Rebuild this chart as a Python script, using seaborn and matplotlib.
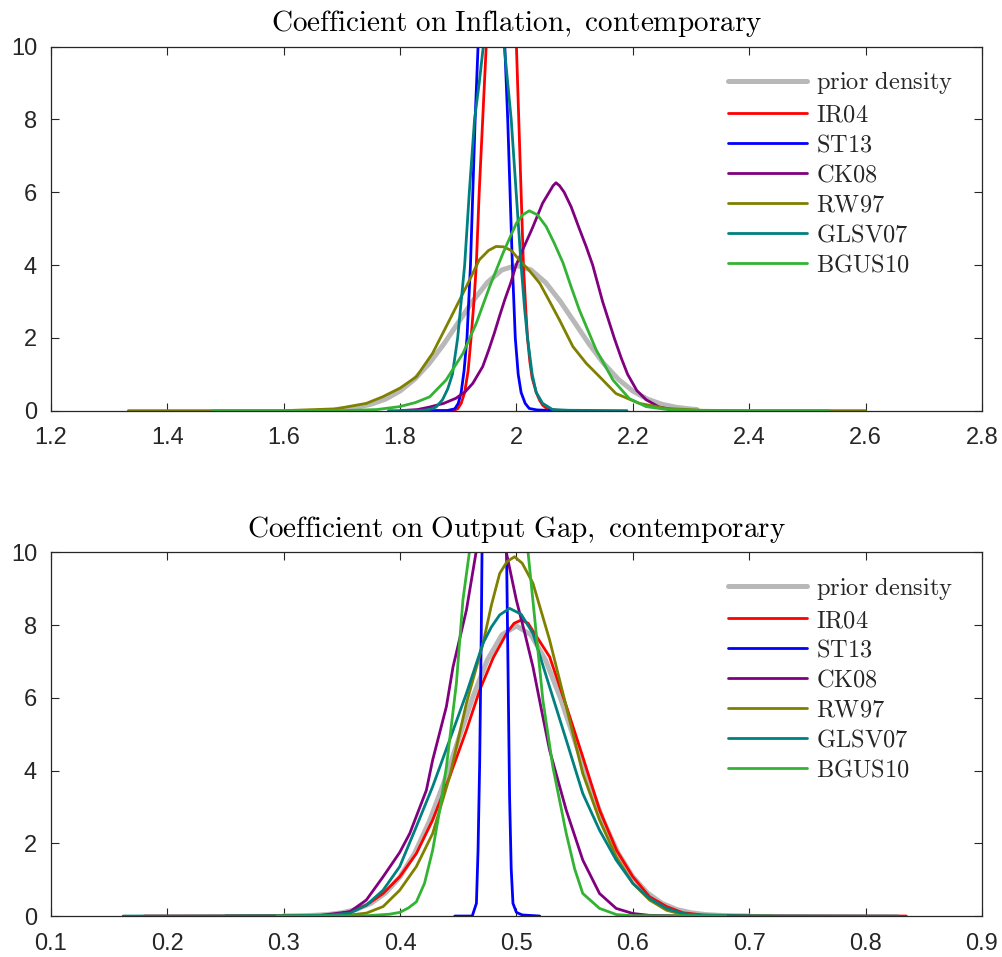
import numpy as np
import pandas as pd
import matplotlib
matplotlib.use("Agg")
import matplotlib.pyplot as plt
import seaborn as sns

# ---------------- data ----------------
series_names = ["prior density", "IR04", "ST13", "CK08", "RW97", "GLSV07", "BGUS10"]

# Panel 1: Coefficient on Inflation
infl_prior_x = [1.69, 1.70, 1.725, 1.75, 1.775, 1.80, 1.825, 1.85, 1.875, 1.90, 1.925, 1.95, 1.975, 2.00,
                2.025, 2.05, 2.075, 2.10, 2.125, 2.15, 2.175, 2.20, 2.225, 2.25, 2.275, 2.30, 2.31]
infl_prior_y = [0.033, 0.044, 0.091, 0.175, 0.317, 0.540, 0.863, 1.295, 1.826, 2.420, 3.011, 3.521, 3.866, 3.989,
                3.866, 3.521, 3.011, 2.420, 1.826, 1.295, 0.863, 0.540, 0.317, 0.175, 0.091, 0.044, 0.033]

infl_ir04_x = [1.86, 1.89, 1.899, 1.905, 1.911, 1.917, 1.922, 1.927, 1.931, 1.936, 1.942, 1.948, 1.955, 1.962,
               1.968, 1.975, 1.982, 1.99, 1.995, 2.0, 2.004, 2.008, 2.012, 2.016, 2.019, 2.023, 2.027, 2.034,
               2.040, 2.045, 2.053, 2.07, 2.10]
infl_ir04_y = [0, 0, 0.05, 0.2, 0.5, 1.1, 2, 3, 4, 6, 8, 10, 13.5, 16.5, 18.2, 18.5, 17, 14, 12, 10, 8, 6, 4,
               2.8, 2, 1.35, 0.9, 0.5, 0.28, 0.15, 0.05, 0.01, 0]

infl_st13_x = [1.85, 1.88, 1.894, 1.900, 1.905, 1.910, 1.915, 1.921, 1.925, 1.929, 1.934, 1.940, 1.945, 1.951,
               1.957, 1.963, 1.97, 1.975, 1.980, 1.985, 1.989, 1.993, 1.998, 2.003, 2.008, 2.015, 2.022,
               2.035, 2.06, 2.10]
infl_st13_y = [0, 0, 0.05, 0.2, 0.5, 1.1, 2, 4, 6, 8, 10, 13.5, 17, 20, 21, 20, 17, 13.5, 10, 8, 6, 4, 2, 1,
               0.5, 0.2, 0.06, 0.02, 0.005, 0]

infl_ck08_x = [1.80, 1.83, 1.851, 1.875, 1.896, 1.912, 1.925, 1.942, 1.952, 1.962, 1.971, 1.980, 1.990, 1.9995,
               2.013, 2.027, 2.045, 2.057, 2.063, 2.068, 2.074, 2.082, 2.094, 2.108, 2.120, 2.131, 2.148,
               2.168, 2.180, 2.191, 2.207, 2.223, 2.245, 2.27, 2.30]
infl_ck08_y = [0, 0.03, 0.1, 0.2, 0.34, 0.52, 0.75, 1.21, 1.65, 2.13, 2.6, 3.05, 3.5, 4, 4.5, 5, 5.7, 6.02,
               6.18, 6.26, 6.18, 6, 5.6, 5, 4.5, 4, 3, 2, 1.45, 1, 0.55, 0.3, 0.1, 0.02, 0]

infl_rw97_x = [1.333, 1.60, 1.69, 1.742, 1.770, 1.80, 1.828, 1.856, 1.885, 1.914, 1.936, 1.952, 1.965, 1.978,
               1.991, 2.005, 2.022, 2.040, 2.057, 2.074, 2.097, 2.120, 2.143, 2.171, 2.211, 2.257, 2.32, 2.40,
               2.60]
infl_rw97_y = [0, 0, 0.05, 0.2, 0.38, 0.62, 0.93, 1.58, 2.49, 3.41, 4.14, 4.4, 4.51, 4.5, 4.4, 4.14, 3.85,
               3.5, 3.0, 2.49, 1.76, 1.3, 0.93, 0.47, 0.2, 0.06, 0.01, 0, 0]

infl_glsv07_x = [1.78, 1.83, 1.851, 1.862, 1.873, 1.882, 1.890, 1.899, 1.905, 1.911, 1.919, 1.928, 1.936, 1.943,
                 1.950, 1.958, 1.965, 1.972, 1.979, 1.991, 1.9995, 2.008, 2.014, 2.019, 2.027, 2.034, 2.045,
                 2.062, 2.09, 2.19]
infl_glsv07_y = [0, 0, 0.03, 0.1, 0.3, 0.6, 1, 2, 3, 4, 6, 8, 9, 10, 12, 14, 14, 12, 10, 8, 6, 4, 2.8, 2, 1,
                 0.5, 0.2, 0.03, 0.01, 0]

infl_bgus10_x = [1.479, 1.70, 1.76, 1.799, 1.826, 1.851, 1.879, 1.908, 1.931, 1.954, 1.977, 1.99, 2.0, 2.011,
                 2.022, 2.036, 2.051, 2.065, 2.080, 2.094, 2.108, 2.137, 2.166, 2.194, 2.223, 2.26, 2.32, 2.40,
                 2.537]
infl_bgus10_y = [0, 0, 0.03, 0.11, 0.22, 0.38, 0.84, 1.57, 2.4, 3.41, 4.33, 4.8, 5.15, 5.38, 5.49, 5.38, 5.06,
                 4.6, 4.06, 3.4, 2.77, 1.67, 0.84, 0.33, 0.11, 0.03, 0.005, 0, 0]

# Panel 2: Coefficient on Output Gap
gap_prior_x = [0.30, 0.3125, 0.325, 0.3375, 0.35, 0.3625, 0.375, 0.3875, 0.40, 0.4125, 0.425, 0.4375, 0.45,
               0.4625, 0.475, 0.4875, 0.50, 0.5125, 0.525, 0.5375, 0.55, 0.5625, 0.575, 0.5875, 0.60,
               0.6125, 0.625, 0.6375, 0.65, 0.6625, 0.675, 0.6875, 0.70]
gap_prior_y = [0.003, 0.008, 0.018, 0.04, 0.089, 0.182, 0.350, 0.635, 1.080, 1.725, 2.590, 3.653, 4.839,
               6.022, 7.041, 7.731, 7.979, 7.731, 7.041, 6.022, 4.839, 3.653, 2.590, 1.725, 1.080,
               0.635, 0.350, 0.182, 0.089, 0.04, 0.018, 0.008, 0.003]

gap_ir04_x = [0.18, 0.30, 0.330, 0.343, 0.357, 0.371, 0.3854, 0.3997, 0.414, 0.428, 0.4426, 0.457, 0.4684,
              0.48, 0.492, 0.498, 0.5042, 0.510, 0.515, 0.5285, 0.543, 0.557, 0.5715, 0.586, 0.600, 0.6144,
              0.629, 0.643, 0.66, 0.70, 0.835]
gap_ir04_y = [0, 0.005, 0.015, 0.03, 0.12, 0.3, 0.62, 1.08, 1.72, 2.64, 3.83, 5.11, 6.21, 7.1, 7.8, 8.05,
              8.14, 8.05, 7.8, 7.13, 5.76, 4.38, 2.91, 1.81, 1.08, 0.53, 0.26, 0.09, 0.03, 0.005, 0]

gap_st13_x = [0.447, 0.462, 0.4656, 0.4670, 0.4684, 0.4698, 0.471, 0.475, 0.481, 0.487, 0.4915, 0.4927,
              0.4941, 0.4955, 0.497, 0.500, 0.505, 0.520]
gap_st13_y = [0, 0, 0.35, 1.8, 4.2, 7.9, 12, 25, 35, 25, 10, 6.95, 3.28, 1.3, 0.35, 0.1, 0.03, 0]

gap_ck08_x = [0.25, 0.33, 0.357, 0.371, 0.3854, 0.3997, 0.4083, 0.4226, 0.428, 0.4398, 0.4455, 0.457, 0.4656,
              0.472, 0.478, 0.485, 0.4913, 0.4999, 0.507, 0.5142, 0.5213, 0.5285, 0.5428, 0.557, 0.5714,
              0.5857, 0.600, 0.614, 0.64, 0.70]
gap_ck08_y = [0, 0.01, 0.12, 0.44, 1.08, 1.75, 2.27, 3.46, 4.29, 5.76, 6.85, 8.41, 10.06, 10.9, 11.2, 10.9,
              10.0, 8.69, 7.8, 6.85, 5.7, 4.56, 2.91, 1.54, 0.62, 0.21, 0.07, 0.02, 0.005, 0]

gap_rw97_x = [0.25, 0.34, 0.357, 0.371, 0.3854, 0.3997, 0.414, 0.428, 0.4426, 0.457, 0.4713, 0.4785, 0.4856,
              0.492, 0.4984, 0.505, 0.5142, 0.5285, 0.5428, 0.557, 0.5714, 0.5857, 0.600, 0.6144, 0.629,
              0.643, 0.66, 0.72]
gap_rw97_y = [0, 0.01, 0.03, 0.08, 0.26, 0.71, 1.36, 2.27, 3.83, 5.85, 7.5, 8.55, 9.42, 9.75, 9.88, 9.7, 9.15,
              7.59, 5.76, 3.92, 2.64, 1.63, 0.9, 0.44, 0.16, 0.04, 0.01, 0]

gap_glsv07_x = [0.162, 0.30, 0.34, 0.357, 0.371, 0.3854, 0.3997, 0.414, 0.428, 0.4426, 0.457, 0.4713, 0.4785,
                0.4856, 0.4941, 0.504, 0.5142, 0.5285, 0.5428, 0.557, 0.5714, 0.5857, 0.600, 0.614, 0.629,
                0.643, 0.66, 0.70, 0.828]
gap_glsv07_y = [0, 0.005, 0.03, 0.08, 0.3, 0.71, 1.36, 2.46, 3.56, 4.84, 6.12, 7.5, 7.95, 8.28, 8.46, 8.3,
                7.77, 6.3, 4.84, 3.37, 2.36, 1.54, 0.9, 0.49, 0.21, 0.07, 0.02, 0.005, 0]

gap_bgus10_x = [0.294, 0.37, 0.3907, 0.3997, 0.407, 0.414, 0.421, 0.428, 0.434, 0.4398, 0.4484, 0.454, 0.4598,
                0.467, 0.475, 0.485, 0.495, 0.503, 0.5098, 0.517, 0.5227, 0.5313, 0.5428, 0.550, 0.557,
                0.5714, 0.586, 0.60, 0.68]
gap_bgus10_y = [0, 0.005, 0.05, 0.1, 0.22, 0.39, 0.9, 1.81, 2.9, 4.1, 6.4, 8.69, 10.06, 11.5, 12.5, 12.8,
                12.5, 11.5, 10.06, 7.77, 5.94, 4.1, 2.27, 1.3, 0.62, 0.21, 0.04, 0.01, 0]

infl_ticks = [1.2, 1.4, 1.6, 1.8, 2.0, 2.2, 2.4, 2.6, 2.8]
infl_ticklabels = ["1.2", "1.4", "1.6", "1.8", "2", "2.2", "2.4", "2.6", "2.8"]
gap_ticks = [0.1, 0.2, 0.3, 0.4, 0.5, 0.6, 0.7, 0.8, 0.9]
gap_ticklabels = ["0.1", "0.2", "0.3", "0.4", "0.5", "0.6", "0.7", "0.8", "0.9"]
y_ticks = [0, 2, 4, 6, 8, 10]

titles = ["Coefficient on Inflation, contemporary", "Coefficient on Output Gap, contemporary"]

# ---------------- styling ----------------
colors = {
    "prior density": (0.72, 0.72, 0.72),
    "IR04": (1.0, 0.0, 0.0),
    "ST13": (0.0, 0.0, 1.0),
    "CK08": (0.5, 0.0, 0.5),
    "RW97": (0.5, 0.5, 0.0),
    "GLSV07": (0.0, 0.5, 0.5),
    "BGUS10": (0.2, 0.7, 0.2),
}
widths = {name: 2.0 for name in series_names}
widths["prior density"] = 3.6

sns.set_theme(style="ticks")
plt.rcParams["font.family"] = ["Liberation Sans", "DejaVu Sans"]
plt.rcParams["mathtext.fontset"] = "cm"

panels = [
    (titles[0], [infl_prior_x, infl_ir04_x, infl_st13_x, infl_ck08_x, infl_rw97_x, infl_glsv07_x, infl_bgus10_x],
     [infl_prior_y, infl_ir04_y, infl_st13_y, infl_ck08_y, infl_rw97_y, infl_glsv07_y, infl_bgus10_y],
     (1.2, 2.8), infl_ticks, infl_ticklabels),
    (titles[1], [gap_prior_x, gap_ir04_x, gap_st13_x, gap_ck08_x, gap_rw97_x, gap_glsv07_x, gap_bgus10_x],
     [gap_prior_y, gap_ir04_y, gap_st13_y, gap_ck08_y, gap_rw97_y, gap_glsv07_y, gap_bgus10_y],
     (0.1, 0.9), gap_ticks, gap_ticklabels),
]

fig = plt.figure(figsize=(10.03, 9.57), dpi=100)
ax_rects = [[0.0508, 0.5709, 0.9282, 0.3804], [0.0508, 0.0428, 0.9282, 0.3800]]

for rect, (title, xs, ys, xlim, xt, xtl) in zip(ax_rects, panels):
    ax = fig.add_axes(rect)
    for name, x, y in zip(series_names, xs, ys):
        df = pd.DataFrame({"x": x, "y": y})
        sns.lineplot(data=df, x="x", y="y", ax=ax, color=colors[name], lw=widths[name],
                     label=name, sort=False, estimator=None)
    ax.set_xlim(*xlim)
    ax.set_ylim(0, 10)
    ax.set_xticks(xt)
    ax.set_xticklabels(xtl)
    ax.set_yticks(y_ticks)
    ax.set_xlabel("")
    ax.set_ylabel("")
    ax.tick_params(direction="in", length=6, width=0.8, colors=(0.15, 0.15, 0.15),
                   labelsize=17, top=True, right=True, labeltop=False, labelright=False)
    ax.tick_params(axis="x", pad=12)
    ax.tick_params(axis="y", pad=10)
    for sp in ax.spines.values():
        sp.set_visible(True)
        sp.set_color((0.15, 0.15, 0.15))
        sp.set_linewidth(0.9)
    ax.set_title(r"$\mathrm{" + title.replace(" ", r"\ ") + "}$", fontsize=21, pad=11, color="black")
    leg = ax.legend(loc="upper right", bbox_to_anchor=(0.985, 0.978), frameon=False,
                    prop={"family": "serif", "size": 17.6}, handlelength=3.25,
                    handletextpad=0.37, labelspacing=0.285, borderaxespad=0.2)
    for t in leg.get_texts():
        t.set_text(r"$\mathrm{" + t.get_text().replace(" ", r"\ ") + "}$")

fig.savefig("out.png", dpi=100)
